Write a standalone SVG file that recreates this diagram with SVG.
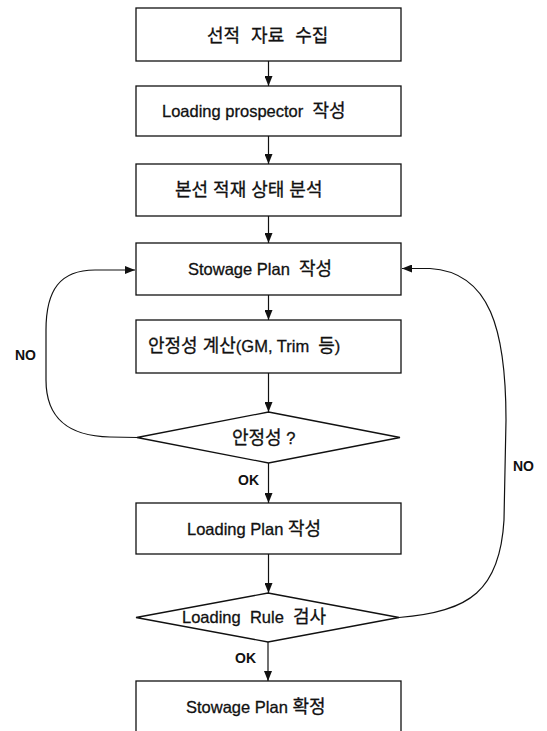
<svg xmlns="http://www.w3.org/2000/svg" width="547" height="731" viewBox="0 0 547 731">
  <style>
    .box { fill: #ffffff; stroke: #111111; stroke-width: 1.3; }
    .lbl { font-family: "Liberation Sans", "Noto Sans CJK KR", sans-serif; font-size: 16.5px; fill: #111111; stroke: #111111; stroke-width: 0.3; dominant-baseline: central; white-space: pre; }
    .ko { font-size: 18px; }
    .tag { font-family: "Liberation Sans", "Noto Sans CJK KR", sans-serif; font-size: 14px; font-weight: bold; fill: #111111; dominant-baseline: central; }
    .edge { fill: none; stroke: #111111; stroke-width: 1.2; marker-end: url(#arrow); }
  </style>
  <defs>
    <marker id="arrow" markerUnits="userSpaceOnUse" markerWidth="10" markerHeight="8" refX="10" refY="4" orient="auto">
      <path d="M0,0 L10,4 L0,8 z" fill="#111111"/>
    </marker>
  </defs>
  <rect width="547" height="731" fill="#ffffff"/>

  <g id="collect">
    <rect class="box" x="136" y="8" width="265" height="53"/>
    <text class="lbl ko" x="207" y="36" word-spacing="6">선적 자료 수집</text>
  </g>
  <g id="prospector">
    <rect class="box" x="136" y="86" width="265" height="50"/>
    <text class="lbl" x="162" y="111">Loading prospector  <tspan class="ko">작성</tspan></text>
  </g>
  <g id="analysis">
    <rect class="box" x="136" y="164" width="265" height="52"/>
    <text class="lbl ko" x="175" y="190">본선 적재 상태 분석</text>
  </g>
  <g id="stowage">
    <rect class="box" x="136" y="243" width="265" height="52"/>
    <text class="lbl" x="188" y="269">Stowage Plan  <tspan class="ko">작성</tspan></text>
  </g>
  <g id="stability-calc">
    <rect class="box" x="136" y="320" width="265" height="53"/>
    <text class="lbl" x="148" y="346"><tspan class="ko">안정성 계산</tspan>(GM, Trim  <tspan class="ko">등</tspan>)</text>
  </g>
  <g id="stability-check">
    <polygon class="box" points="268.5,412 400,437.5 268.5,463 137,437.5"/>
    <text class="lbl" x="232" y="438"><tspan class="ko">안정성</tspan> ?</text>
  </g>
  <g id="loading-plan">
    <rect class="box" x="136" y="503" width="265" height="51"/>
    <text class="lbl" x="187" y="529">Loading Plan <tspan class="ko">작성</tspan></text>
  </g>
  <g id="rule-check">
    <polygon class="box" points="268,593 399,617.5 268,642 136,617.5"/>
    <text class="lbl" x="182" y="617">Loading  Rule  <tspan class="ko">검사</tspan></text>
  </g>
  <g id="confirm">
    <rect class="box" x="136" y="681" width="265" height="60"/>
    <text class="lbl" x="186" y="707">Stowage Plan <tspan class="ko">확정</tspan></text>
  </g>

  <g id="connectors">
    <path class="edge" d="M268.5,61 L268.5,86"/>
    <path class="edge" d="M268.5,136 L268.5,164"/>
    <path class="edge" d="M268.5,216 L268.5,243"/>
    <path class="edge" d="M268.5,295 L268.5,320"/>
    <path class="edge" d="M268.5,373 L268.5,412"/>
    <path class="edge" d="M268.5,463 L268.5,503"/>
    <path class="edge" d="M268.5,554 L268.5,593"/>
    <path class="edge" d="M268,642 L268,681"/>
    <path class="edge" d="M137,437.5 L110,437 C70,436 46,420 46,380 L46,330 C46,290 60,270 95,270 L135,270"/>
    <path class="edge" d="M399,617.5 C470,612 500,590 504,520 L506,420 C506,330 490,272 430,268.5 L402,268.5"/>
    <text class="tag" x="15" y="355">NO</text>
    <text class="tag" x="513" y="466">NO</text>
    <text class="tag" x="238" y="480">OK</text>
    <text class="tag" x="235" y="658">OK</text>
  </g>
</svg>
